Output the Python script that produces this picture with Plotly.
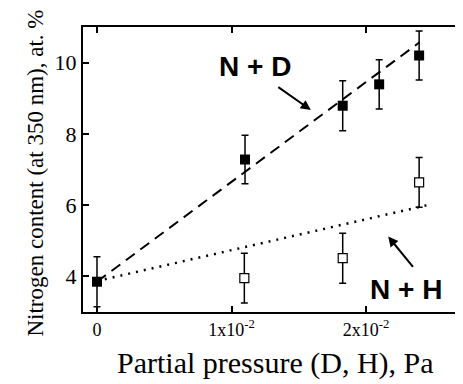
import plotly.graph_objects as go

# Data
pressure_D = [0.0, 0.0110, 0.01826, 0.02097, 0.02394]
nitrogen_D = [3.85, 7.28, 8.79, 9.39, 10.20]
err_D = [0.70, 0.68, 0.70, 0.69, 0.69]

pressure_H = [0.01095, 0.01826, 0.02394]
nitrogen_H = [3.95, 4.51, 6.64]
err_H = [0.70, 0.70, 0.70]

fit_D_x = [0.0, 0.02397]
fit_D_y = [3.85, 10.57]
fit_H_x = [0.0, 0.0248]
fit_H_y = [3.87, 6.02]

x_tickvals = [0, 0.01, 0.02]
x_ticktext = ["0", "1x10<sup>-2</sup>", "2x10<sup>-2</sup>"]
y_tickvals = [4, 6, 8, 10]
y_ticktext = ["4", "6", "8", "10"]

x_title = "Partial pressure (D, H), Pa"
y_title = "Nitrogen content (at 350 nm), at. %"

serif = "Liberation Serif, Times New Roman, serif"
sans = "Liberation Sans, Arial, sans-serif"

fig = go.Figure()

fig.add_trace(go.Scatter(x=fit_H_x, y=fit_H_y, mode="lines",
                         line=dict(color="black", width=2.5, dash="2px,6px"),
                         showlegend=False, hoverinfo="skip"))
fig.add_trace(go.Scatter(x=fit_D_x, y=fit_D_y, mode="lines",
                         line=dict(color="black", width=2, dash="11px,7px"),
                         showlegend=False, hoverinfo="skip"))

fig.add_trace(go.Scatter(x=pressure_H, y=nitrogen_H, mode="markers",
                         marker=dict(symbol="square", size=9, color="white",
                                     line=dict(color="black", width=1.2)),
                         error_y=dict(type="data", array=err_H, color="black",
                                      thickness=1.5, width=3.5),
                         showlegend=False))
fig.add_trace(go.Scatter(x=pressure_D, y=nitrogen_D, mode="markers",
                         marker=dict(symbol="square", size=10, color="black",
                                     line=dict(color="black", width=0)),
                         error_y=dict(type="data", array=err_D, color="black",
                                      thickness=1.5, width=3.5),
                         showlegend=False))

# invisible trace for right-side y axis ticks
fig.add_trace(go.Scatter(x=[0], y=[4], yaxis="y2", mode="markers",
                         marker=dict(opacity=0), showlegend=False, hoverinfo="skip"))

# labels and arrows
fig.add_annotation(x=0.01175, y=9.88, text="<b>N + D</b>", showarrow=False,
                   font=dict(family=sans, size=28, color="black"))
fig.add_annotation(x=0.01589, y=8.67, ax=-34, ay=-24, text="", showarrow=True,
                   arrowhead=2, arrowsize=1, arrowwidth=2, arrowcolor="black")
fig.add_annotation(x=0.02297, y=3.63, text="<b>N + H</b>", showarrow=False,
                   font=dict(family=sans, size=28, color="black"))
fig.add_annotation(x=0.02164, y=5.12, ax=26, ay=32, text="", showarrow=True,
                   arrowhead=2, arrowsize=1, arrowwidth=2, arrowcolor="black")

# axis titles
fig.add_annotation(xref="paper", yref="paper", x=0.5058, y=-0.18,
                   xanchor="center", yanchor="middle", showarrow=False,
                   text=x_title, font=dict(family=serif, size=30, color="black"))
fig.add_annotation(xref="paper", yref="paper", x=-0.1276, y=0.4877,
                   xanchor="center", yanchor="middle", showarrow=False,
                   textangle=-90,
                   text=y_title, font=dict(family=serif, size=23, color="black"))

# page body has an 8px margin, so the figure is sized to fit the 463x384 window
fig.update_layout(
    width=455, height=376,
    margin=dict(l=75, r=0, t=19, b=72, autoexpand=False),
    paper_bgcolor="white", plot_bgcolor="white",
    xaxis=dict(range=[-0.00104, 0.0272], tickvals=x_tickvals, ticktext=x_ticktext,
               ticks="inside", ticklen=6, tickwidth=1.5, tickcolor="black",
               showline=True, linecolor="black", linewidth=2, mirror="ticks",
               showgrid=False, zeroline=False, automargin=False,
               tickfont=dict(family=serif, size=18, color="black")),
    yaxis=dict(range=[3.0, 11.0], tickvals=y_tickvals, ticktext=y_ticktext,
               ticks="inside", ticklen=6, tickwidth=1.5, tickcolor="black",
               showline=True, linecolor="black", linewidth=2, mirror=False,
               showgrid=False, zeroline=False, automargin=False,
               tickfont=dict(family=serif, size=22, color="black")),
    yaxis2=dict(range=[3.0, 11.0], overlaying="y", side="right",
                tickvals=y_tickvals, showticklabels=False,
                ticks="inside", ticklen=3, tickwidth=1.5, tickcolor="black",
                showline=False, showgrid=False, zeroline=False, automargin=False),
)

fig.write_html("out.html")
